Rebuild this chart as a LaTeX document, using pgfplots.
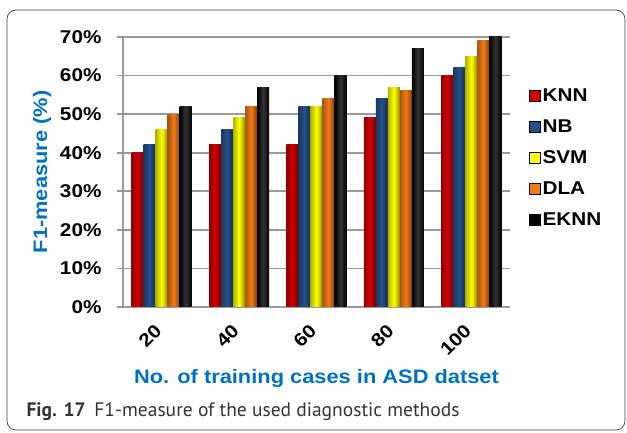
\documentclass[border=0pt]{standalone}
\usepackage{fontspec}
\usepackage{pgfplots}
\pgfplotsset{compat=1.18}
\newfontfamily\chartfont{Liberation Sans}[FakeStretch=1.12]
\newfontfamily\capfont{PT Sans}
\definecolor{cknn}{HTML}{D00000}
\definecolor{cnb}{HTML}{25508A}
\definecolor{csvm}{HTML}{FFFF00}
\definecolor{cdla}{HTML}{F27A14}
\definecolor{ceknn}{HTML}{000000}
\definecolor{lblue}{HTML}{0070C0}
\definecolor{gridgray}{HTML}{9A9A9A}
\pgfplotsset{
  cyl/.style 2 args={ybar, bar width=12pt, bar shift=#2, draw=none,
    left color=#1!70!black, right color=#1!55!black, middle color=#1},
  knn/.style={cyl={cknn}{-24pt}},
  nb/.style={cyl={cnb}{-12pt}},
  svm/.style={cyl={csvm}{0pt}},
  dla/.style={cyl={cdla}{12pt}},
  eknn/.style={ybar, bar width=12pt, bar shift=24pt, draw=none,
    left color=black, right color=black, middle color=black!80},
}
\begin{document}
\begin{tikzpicture}
\path (-123pt,-126pt) rectangle (504pt,307pt);
\draw[rounded corners=9pt, black!75, line width=0.7pt] (-116pt,297pt) rectangle (502pt,-123pt);
\begin{axis}[
  at={(0pt,0pt)}, anchor=south west,
  scale only axis, width=387pt, height=270pt,
  xmin=-0.5, xmax=4.5, ymin=0, ymax=70,
  xtick={0,1,2,3,4}, xticklabels={20,40,60,80,100},
  ytick={0,10,...,70},
  /pgf/number format/assume math mode=true,
  yticklabel={\pgfmathprintnumber{\tick}\%},
  ymajorgrids, grid style={gridgray, line width=1.6pt},
  axis x line*=bottom, axis y line*=left,
  axis line style={gridgray, line width=1.6pt},
  x axis line style={-}, y axis line style={-},
  tick align=outside, major tick length=6pt,
  xtick style={draw=none},
  ytick style={gridgray, line width=1.6pt},
  ticklabel style={font=\chartfont\bfseries\fontsize{18.5}{20}\selectfont, black},
  yticklabel style={xshift=-12pt},
  xticklabel style={xshift=-1pt, yshift=-12.5pt, rotate=45, anchor=east},
  xlabel={No. of training cases in ASD datset},
  ylabel={F1-measure (\%)},
  label style={font=\chartfont\bfseries\fontsize{19.5}{21}\selectfont, lblue},
  xlabel style={at={(axis description cs:0.5,0)}, anchor=center, yshift=-72pt},
  ylabel style={at={(axis description cs:0,0.5)}, anchor=center, yshift=81pt},
  legend style={draw=none, fill=none, at={(axis description cs:1,0.825)}, anchor=north west, xshift=16pt,
    font=\chartfont\bfseries\fontsize{18.5}{20}\selectfont, row sep=12.7pt},
  legend cell align=left,
  legend image code/.code={\fill[#1] (0pt,-5.5pt) rectangle (11pt,5.5pt);},
]
\addlegendimage{fill=cknn}\addlegendentry{KNN}
\addlegendimage{fill=cnb}\addlegendentry{NB}
\addlegendimage{fill=csvm}\addlegendentry{SVM}
\addlegendimage{fill=cdla}\addlegendentry{DLA}
\addlegendimage{fill=ceknn}\addlegendentry{EKNN}
% KNN
\addplot[knn, forget plot] coordinates {(0,40)};
\addplot[knn, forget plot] coordinates {(1,42)};
\addplot[knn, forget plot] coordinates {(2,42)};
\addplot[knn, forget plot] coordinates {(3,49)};
\addplot[knn, forget plot] coordinates {(4,60)};
% NB
\addplot[nb, forget plot] coordinates {(0,42)};
\addplot[nb, forget plot] coordinates {(1,46)};
\addplot[nb, forget plot] coordinates {(2,52)};
\addplot[nb, forget plot] coordinates {(3,54)};
\addplot[nb, forget plot] coordinates {(4,62)};
% SVM
\addplot[svm, forget plot] coordinates {(0,46)};
\addplot[svm, forget plot] coordinates {(1,49)};
\addplot[svm, forget plot] coordinates {(2,52)};
\addplot[svm, forget plot] coordinates {(3,57)};
\addplot[svm, forget plot] coordinates {(4,65)};
% DLA
\addplot[dla, forget plot] coordinates {(0,50)};
\addplot[dla, forget plot] coordinates {(1,52)};
\addplot[dla, forget plot] coordinates {(2,54)};
\addplot[dla, forget plot] coordinates {(3,56)};
\addplot[dla, forget plot] coordinates {(4,69)};
% EKNN
\addplot[eknn, forget plot] coordinates {(0,52)};
\addplot[eknn, forget plot] coordinates {(1,57)};
\addplot[eknn, forget plot] coordinates {(2,60)};
\addplot[eknn, forget plot] coordinates {(3,67)};
\addplot[eknn, forget plot] coordinates {(4,70)};
\end{axis}
\node[anchor=west, font=\capfont\fontsize{19.5}{22}\selectfont, text=black!80] at (-100pt,-105pt) {\textbf{Fig. 17}\hspace{0.45em}F1-measure of the used diagnostic methods};
\end{tikzpicture}
\end{document}
